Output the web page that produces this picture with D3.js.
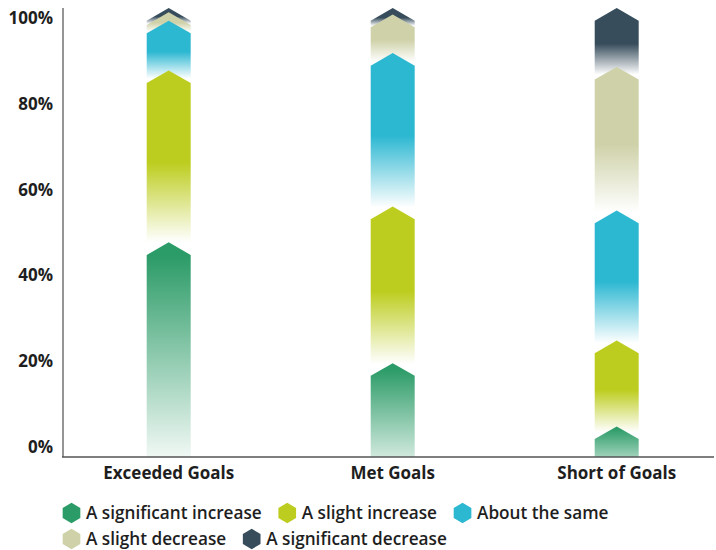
<!DOCTYPE html>
<html>
<head>
<meta charset="utf-8">
<script src="https://cdn.jsdelivr.net/npm/d3@7"></script>
<style>
  html, body { margin: 0; padding: 0; background: #fff; }
  svg { display: block; font-family: "Open Sans", "DejaVu Sans", sans-serif; }
</style>
</head>
<body>
<svg id="chart" width="716" height="550"></svg>
<script>
// ---------- data ----------
const categories = ["Exceeded Goals", "Met Goals", "Short of Goals"];
const seriesNames = ["A significant increase", "A slight increase", "About the same", "A slight decrease", "A significant decrease"];
const significantIncrease = [46.3, 18.6, 4.1];
const slightIncrease      = [39.4, 35.9, 19.7];
const aboutTheSame        = [11.4, 35.2, 29.8];
const slightDecrease      = [1.9, 8.8, 32.9];
const significantDecrease = [1.0, 1.5, 13.5];
const tickValues = [0, 20, 40, 60, 80, 100];
const tickLabels = ["0%", "20%", "40%", "60%", "80%", "100%"];

// ---------- styles ----------
const colors = ["#2b9b67", "#bdcd1f", "#2db8d2", "#cfd2a9", "#374d5c"];
const greenEndOpacity = [0.07, 0.22, 0.45];

const seriesValues = [significantIncrease, slightIncrease, aboutTheSame, slightDecrease, significantDecrease];
const table = categories.map((c, i) => {
  const row = { category: c };
  seriesNames.forEach((s, k) => row[s] = seriesValues[k][i]);
  return row;
});
const stacked = d3.stack().keys(seriesNames)(table);

const svg = d3.select("#chart");
const defs = svg.append("defs");

// gradients
seriesNames.forEach((s, k) => {
  if (k === 0) {
    categories.forEach((c, i) => {
      const g = defs.append("linearGradient")
        .attr("id", `grad-0-${i}`)
        .attr("x1", 0).attr("y1", 0).attr("x2", 0).attr("y2", 1);
      g.append("stop").attr("offset", 0).attr("stop-color", colors[0]);
      g.append("stop").attr("offset", 0.06).attr("stop-color", colors[0]);
      g.append("stop").attr("offset", 1).attr("stop-color", colors[0]).attr("stop-opacity", greenEndOpacity[i]);
    });
  } else {
    const g = defs.append("linearGradient")
      .attr("id", `grad-${k}`)
      .attr("x1", 0).attr("y1", 0).attr("x2", 0).attr("y2", 1);
    g.append("stop").attr("offset", 0).attr("stop-color", colors[k]);
    g.append("stop").attr("offset", 0.5).attr("stop-color", colors[k]);
    g.append("stop").attr("offset", 0.93).attr("stop-color", "#ffffff");
    g.append("stop").attr("offset", 1).attr("stop-color", "#ffffff");
  }
});

// scales
const x = d3.scaleBand().domain(categories).range([56.7, 728.7])
  .paddingInner(0.8036).paddingOuter(0.4018);
const y = d3.scaleLinear().domain([0, 100]).range([457, 20.7]);
const yLabel = d3.scaleLinear().domain([0, 100]).range([447, 18]);
const peak = 12.7;

// axes lines
svg.append("line").attr("x1", 63).attr("x2", 63).attr("y1", 8).attr("y2", 457)
  .attr("stroke", "#7a7a7a").attr("stroke-width", 1.6);

// bars: draw top series first so lower peaks overlay
const barG = svg.append("g");
for (let k = stacked.length - 1; k >= 0; k--) {
  const layer = stacked[k];
  barG.selectAll(null).data(layer).enter().append("path")
    .attr("d", (d, i) => {
      const x0 = x(categories[i]), x1 = x0 + x.bandwidth(), cx = (x0 + x1) / 2;
      const yb = y(d[0]), yt = y(d[1]);
      return `M${x0},${yb}L${x0},${yt}L${cx},${yt - peak}L${x1},${yt}L${x1},${yb}Z`;
    })
    .attr("fill", (d, i) => k === 0 ? `url(#grad-0-${i})` : `url(#grad-${k})`);
}

svg.append("line").attr("x1", 62).attr("x2", 714).attr("y1", 457).attr("y2", 457)
  .attr("stroke", "#555").attr("stroke-width", 1.6);

// y tick labels
const yAxis = d3.axisLeft(yLabel).tickValues(tickValues)
  .tickFormat((d, i) => tickLabels[i]).tickSize(0).tickPadding(0);
const yg = svg.append("g").attr("transform", "translate(53,0)").call(yAxis);
yg.select(".domain").remove();
yg.selectAll("text").attr("font-size", 17).attr("font-weight", 700)
  .attr("fill", "#1e1e1e").attr("font-family", "Open Sans");

// x labels
const xAxis = d3.axisBottom(x).tickSize(0).tickPadding(0);
const xg = svg.append("g").attr("transform", "translate(0,467)").call(xAxis);
xg.select(".domain").remove();
xg.selectAll("text").attr("font-size", 17).attr("font-weight", 700)
  .attr("fill", "#1e1e1e").attr("font-family", "Open Sans");

// legend
const hex = (cx, cy, r) => {
  const pts = d3.range(6).map(j => {
    const a = Math.PI / 3 * j - Math.PI / 2;
    return [cx + r * Math.cos(a), cy + r * Math.sin(a)];
  });
  return "M" + pts.map(p => p.join(",")).join("L") + "Z";
};
const rows = [[0, 1, 2], [3, 4]];
const rowY = [513, 539];
rows.forEach((row, r) => {
  let cx = 71.5;
  row.forEach(k => {
    svg.append("path").attr("d", hex(cx, rowY[r], 10.2)).attr("fill", colors[k]);
    const t = svg.append("text").attr("x", cx + 14.5).attr("y", rowY[r])
      .attr("dy", "0.35em").attr("font-size", 17.2).attr("font-weight", 600)
      .attr("fill", "#1e1e1e").text(seriesNames[k]);
    cx = cx + 14.5 + t.node().getComputedTextLength() + 25.5;
  });
});
</script>
</body>
</html>
